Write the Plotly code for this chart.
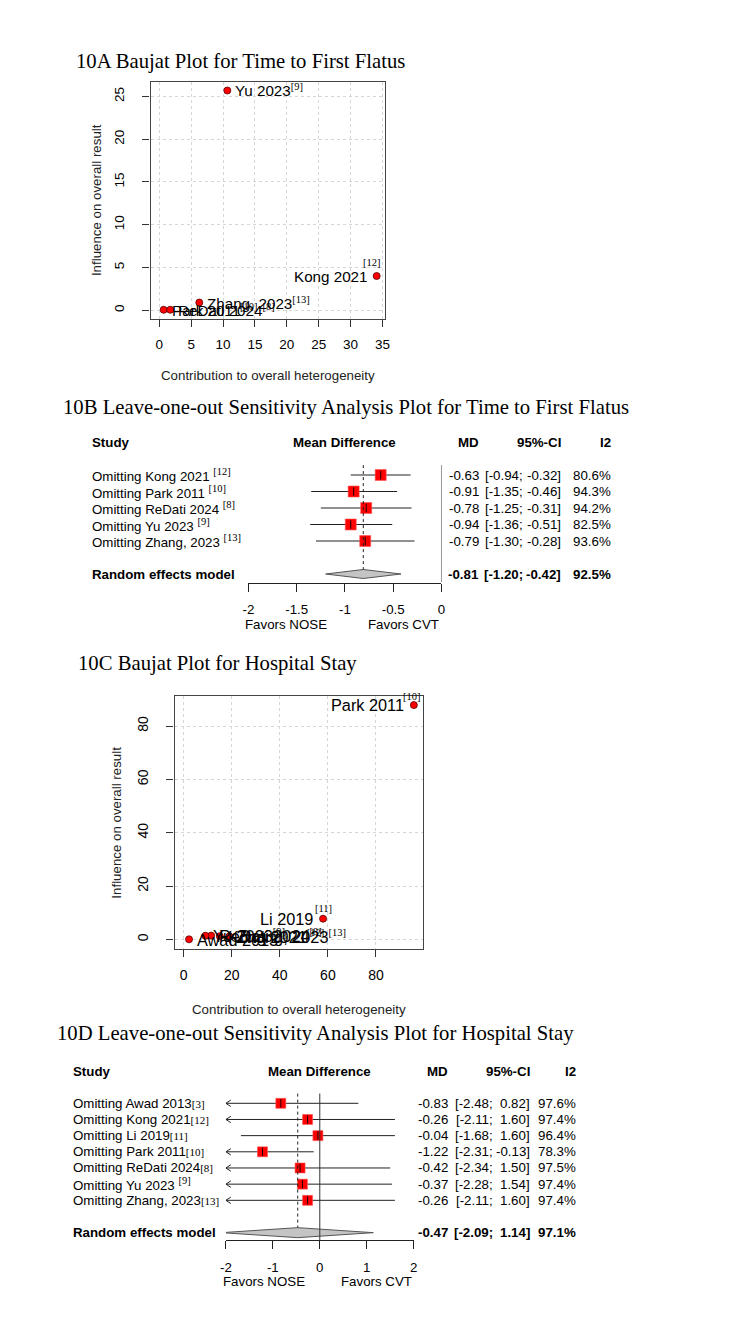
import plotly.graph_objects as go

# page body has an 8px margin: the figure is shrunk and offset so that
# reference pixel coordinates map exactly onto the 750x1333 screenshot
OX, OY = 8, 8
W, H = 734, 1317
SANS = "Liberation Sans, Arial, Helvetica, sans-serif"
SERIF = "Liberation Serif, Times New Roman, serif"

# ---------------- data ----------------
titles = ["10A Baujat Plot for Time to First Flatus",
          "10B Leave-one-out Sensitivity Analysis Plot for Time to First Flatus",
          "10C Baujat Plot for Hospital Stay",
          "10D Leave-one-out Sensitivity Analysis Plot for Hospital Stay"]

# 10A Baujat (time to first flatus)
a_study = ["Kong 2021", "Park 2011", "ReDati 2024", "Yu 2023", "Zhang, 2023"]
a_ref = ["[12]", "[10]", "[8]", "[9]", "[13]"]
a_het = [34.1, 0.68, 1.71, 10.67, 6.27]
a_infl = [4.0, 0.05, 0.05, 25.7, 0.9]
a_xticks = [0, 5, 10, 15, 20, 25, 30, 35]
a_yticks = [0, 5, 10, 15, 20, 25]

# 10B leave-one-out (time to first flatus)
b_label = ["Omitting Kong 2021", "Omitting Park 2011", "Omitting ReDati 2024",
           "Omitting Yu 2023", "Omitting Zhang, 2023"]
b_ref = [" [12]", " [10]", " [8]", " [9]", " [13]"]
b_md = [-0.63, -0.91, -0.78, -0.94, -0.79]
b_lo = [-0.94, -1.35, -1.25, -1.36, -1.30]
b_hi = [-0.32, -0.46, -0.31, -0.51, -0.28]
b_i2 = [80.6, 94.3, 94.2, 82.5, 93.6]
b_re_md, b_re_lo, b_re_hi, b_re_i2 = -0.81, -1.20, -0.42, 92.5
b_ticks = [-2, -1.5, -1, -0.5, 0]

# 10C Baujat (hospital stay)
c_study = ["Awad 2013", "Kong 2021", "Li 2019", "Park 2011", "ReDati 2024", "Yu 2023", "Zhang, 2023"]
c_ref = ["[3]", "[12]", "[11]", "[10]", "[8]", "[9]", "[13]"]
c_het = [2.2, 15.0, 58.0, 95.8, 11.4, 9.0, 19.0]
c_infl = [0.0, 1.2, 7.75, 87.9, 1.4, 1.35, 1.1]
c_xticks = [0, 20, 40, 60, 80]
c_yticks = [0, 20, 40, 60, 80]

# 10D leave-one-out (hospital stay)
d_label = ["Omitting Awad 2013", "Omitting Kong 2021", "Omitting Li 2019", "Omitting Park 2011",
           "Omitting ReDati 2024", "Omitting Yu 2023", "Omitting Zhang, 2023"]
d_ref = ["[3]", "[12]", "[11]", "[10]", "[8]", " [9]", "[13]"]
d_md = [-0.83, -0.26, -0.04, -1.22, -0.42, -0.37, -0.26]
d_lo = [-2.48, -2.11, -1.68, -2.31, -2.34, -2.28, -2.11]
d_hi = [0.82, 1.60, 1.60, -0.13, 1.50, 1.54, 1.60]
d_i2 = [97.6, 97.4, 96.4, 78.3, 97.5, 97.4, 97.4]
d_re_md, d_re_lo, d_re_hi, d_re_i2 = -0.47, -2.09, 1.14, 97.1
d_ticks = [-2, -1, 0, 1, 2]

# ---------------- helpers ----------------
def P(xp):
    return (xp - OX) / W


def Q(yp):
    return 1 - (yp - OY) / H


def ref_html(r, size=10.5):
    return f"<span style='font-family:Liberation Serif;font-size:{size}px'>{r}</span>"


def sup(r, size=10.5):
    return f"<sup>{ref_html(r, size)}</sup>"


def pad_range(vals):
    hi = max(vals)
    d = hi * 0.04
    return [-d, hi + d]


fig = go.Figure()
ann = []
shapes = []

LEFT_FIX = -5

def text(t, x, y, xref="paper", yref="paper", xanchor="left", size=13.3, family=SANS,
         color="black", **kw):
    if xanchor == "left" and "xshift" not in kw:
        kw["xshift"] = LEFT_FIX
    ann.append(dict(text=t, x=x, y=y, xref=xref, yref=yref, xanchor=xanchor, yanchor="middle",
                    showarrow=False, font=dict(size=size, family=family, color=color), **kw))

# titles
title_pos = [(74, 61.7), (61, 407.5), (76, 663), (55, 1033)]
for t, (tx, ty) in zip(titles, title_pos):
    text(t, P(tx), Q(ty), size=20.7, family=SERIF)

# ---------------- Baujat panels ----------------
def baujat(xa, ya, box, het, infl, study, refs, xticks, yticks, left_set, ref_shift,
           tick_size, lab_size, xtitle_y, ytitle_x):
    x0, x1, y0, y1 = box
    fig.add_trace(go.Scatter(x=het, y=infl, mode="markers", xaxis=xa, yaxis=ya,
                             marker=dict(size=7, color="#ff0000", line=dict(color="#550000", width=0.8)),
                             cliponaxis=False, hoverinfo="skip"))
    axn = "xaxis" + xa[1:]
    ayn = "yaxis" + ya[1:]
    common = dict(ticks="outside", ticklen=7, tickcolor="#333", tickwidth=1,
                  showline=True, mirror=True, linecolor="#444", linewidth=1.4,
                  showgrid=True, gridcolor="#d6d6d6", griddash="dot", gridwidth=1,
                  zeroline=False, fixedrange=True,
                  tickfont=dict(size=tick_size, family=SANS, color="black"))
    fig.update_layout(**{
        axn: dict(domain=[P(x0), P(x1)], range=pad_range(het), anchor=ya,
                  tickvals=xticks, ticktext=[str(v) for v in xticks], ticklabelstandoff=6, **common),
        ayn: dict(domain=[Q(y1), Q(y0)], range=pad_range(infl), anchor=xa,
                  tickvals=yticks, ticktext=[str(v) for v in yticks], tickangle=-90,
                  ticklabelstandoff=13, **common),
    })
    for s, r, hx, iy in zip(study, refs, het, infl):
        if s in left_set:
            text(s, hx, iy, xref=xa, yref=ya, xanchor="right", size=lab_size, xshift=-8)
            dx, dy = ref_shift[s]
            text(ref_html(r), hx, iy, xref=xa, yref=ya, xanchor="left", size=lab_size,
                 xshift=dx, yshift=dy)
        else:
            text(s + sup(r), hx, iy, xref=xa, yref=ya, xanchor="left", size=lab_size, xshift=6)
    text("Contribution to overall heterogeneity", P((x0 + x1) / 2), Q(xtitle_y),
         xanchor="center", size=13.3, color="#222")
    text("Influence on overall result", P(ytitle_x), Q((y0 + y1) / 2),
         xanchor="center", size=13.3, color="#222", textangle=-90)

baujat("x", "y", (146.7, 385, 81.7, 319), a_het, a_infl, a_study, a_ref, a_xticks, a_yticks,
       {"Kong 2021"}, {"Kong 2021": (-16, 14)}, 13.5, 15.2, 375, 92)
baujat("x2", "y2", (171, 423.3, 695.7, 948.7), c_het, c_infl, c_study, c_ref, c_xticks, c_yticks,
       {"Li 2019", "Park 2011"}, {"Li 2019": (-10, 10), "Park 2011": (-13, 9)}, 14, 16.3, 1009, 112)

# ---------------- forest panels ----------------
def forest(xa, ya, lay, labels, refs, md, lo, hi, i2, re, ticks):
    row0, rh, top, bot = lay["row0"], lay["rh"], lay["top"], lay["bot"]
    xmin, xmax = min(ticks), max(ticks)
    n = len(md)
    rows = list(range(n))
    rr = n + 1
    axn = "xaxis" + xa[1:]
    ayn = "yaxis" + ya[1:]
    fig.update_layout(**{
        axn: dict(domain=[P(lay["ax0"]), P(lay["ax1"])], range=[xmin, xmax], anchor=ya,
                  tickvals=ticks, ticktext=[f"{v:g}" for v in ticks], ticks="outside", ticklen=8,
                  tickcolor="#222", tickwidth=1, showline=True, linecolor="#222", linewidth=1,
                  showgrid=False, zeroline=False, fixedrange=True, ticklabelstandoff=7,
                  tickfont=dict(size=13.3, family=SANS, color="black")),
        ayn: dict(domain=[Q(bot), Q(top)], range=[(bot - row0) / rh, (top - row0) / rh],
                  visible=False, fixedrange=True),
    })
    # CI lines (clipped) and arrows
    lx, ly, arx, ary = [], [], [], []
    axw = 5 / ((lay["ax1"] - lay["ax0"]) / (xmax - xmin))
    ayw = 3.2 / rh
    for r, l, h in zip(rows, lo, hi):
        lx += [max(l, xmin), min(h, xmax), None]
        ly += [r, r, None]
        if l < xmin:
            arx += [xmin + axw, xmin, xmin + axw, None]
            ary += [r - ayw, r, r + ayw, None]
        if h > xmax:
            arx += [xmax - axw, xmax, xmax - axw, None]
            ary += [r - ayw, r, r + ayw, None]
    fig.add_trace(go.Scatter(x=lx, y=ly, mode="lines", xaxis=xa, yaxis=ya, cliponaxis=False,
                             line=dict(color="#222", width=1), hoverinfo="skip"))
    if arx:
        fig.add_trace(go.Scatter(x=arx, y=ary, mode="lines", xaxis=xa, yaxis=ya, cliponaxis=False,
                                 line=dict(color="#222", width=1), hoverinfo="skip"))
    fig.add_trace(go.Scatter(x=md, y=rows, mode="markers", xaxis=xa, yaxis=ya, cliponaxis=False,
                             marker=dict(symbol="square", size=lay["sq"], color="#ff0000",
                                         line=dict(width=0.6, color="#ff5555")), hoverinfo="skip"))
    fig.add_trace(go.Scatter(x=md, y=rows, mode="markers", xaxis=xa, yaxis=ya, cliponaxis=False,
                             marker=dict(symbol="line-ns", size=6, line=dict(color="black", width=0.9)),
                             hoverinfo="skip"))
    # diamond
    rmd, rlo, rhi, ri2 = re
    hh = lay["dh"] / rh
    if rlo < xmin:
        f = (xmin - rlo) / (rmd - rlo)
        dx = [xmin, rmd, min(rhi, xmax), rmd, xmin, xmin]
        dy = [rr - hh * f, rr - hh, rr, rr + hh, rr + hh * f, rr - hh * f]
    else:
        dx = [rlo, rmd, rhi, rmd, rlo]
        dy = [rr, rr - hh, rr, rr + hh, rr]
    fig.add_trace(go.Scatter(x=dx, y=dy, mode="lines", fill="toself", fillcolor="#c4c4c4",
                             xaxis=xa, yaxis=ya, cliponaxis=False,
                             line=dict(color="#555", width=1), hoverinfo="skip"))
    # reference lines
    ybot = (bot - row0) / rh
    shapes.append(dict(type="line", xref=xa, yref=ya, x0=0, x1=0, y0=-0.6, y1=ybot,
                       line=dict(color="#333", width=1)))
    shapes.append(dict(type="line", xref=xa, yref=ya, x0=rmd, x1=rmd, y0=-0.6, y1=rr - hh,
                       line=dict(color="#222", width=1, dash="dot")))
    # header
    hy = -1.95
    text("<b>Study</b>", P(lay["lab"]), hy, yref=ya)
    text("<b>Mean Difference</b>", P((lay["ax0"] + lay["ax1"]) / 2), hy, yref=ya, xanchor="center")
    text("<b>MD</b>", P(lay["md"]), hy, yref=ya, xanchor="right")
    text("<b>95%-CI</b>", P(lay["ci"]), hy, yref=ya, xanchor="right")
    text("<b>I2</b>", P(lay["i2"]), hy, yref=ya, xanchor="right")
    # rows
    for r, lab, rf, m, l, h, q in zip(rows, labels, refs, md, lo, hi, i2):
        if rf.startswith(" "):
            lab_t = lab + " " + sup(rf.strip())
        else:
            lab_t = lab + ref_html(rf, 11)
        text(lab_t, P(lay["lab"]), r, yref=ya)
        text(f"{m:.2f}", P(lay["md"]), r, yref=ya, xanchor="right")
        text(f"[{l:.2f};", P(lay["semi"]), r, yref=ya, xanchor="right")
        text(f"{h:.2f}]", P(lay["ci"]), r, yref=ya, xanchor="right")
        text(f"{q:.1f}%", P(lay["i2"]), r, yref=ya, xanchor="right")
    text("<b>Random effects model</b>", P(lay["lab"]), rr, yref=ya)
    text(f"<b>{rmd:.2f}</b>", P(lay["md"]), rr, yref=ya, xanchor="right")
    text(f"<b>[{rlo:.2f};</b>", P(lay["semi"]), rr, yref=ya, xanchor="right")
    text(f"<b>{rhi:.2f}]</b>", P(lay["ci"]), rr, yref=ya, xanchor="right")
    text(f"<b>{ri2:.1f}%</b>", P(lay["i2"]), rr, yref=ya, xanchor="right")
    # favours labels
    text("Favors NOSE", xmin, Q(lay["fav"]), xref=xa, xanchor="left")
    text("Favors CVT", xmax, Q(lay["fav"]), xref=xa, xanchor="right")

b_lay = dict(row0=475, rh=16.5, top=442.7, bot=582.5, ax0=246, ax1=442, lab=90,
             md=481.9, semi=527, ci=565, i2=615.8, fav=625, sq=11, dh=4.5)
d_lay = dict(row0=1103.3, rh=16.17, top=1071.7, bot=1240, ax0=223.1, ax1=413.8, lab=70.5,
             md=450.4, semi=496, ci=533.8, i2=580.4, fav=1281.7, sq=10, dh=5)

forest("x3", "y3", b_lay, b_label, b_ref, b_md, b_lo, b_hi, b_i2,
       (b_re_md, b_re_lo, b_re_hi, b_re_i2), b_ticks)
forest("x4", "y4", d_lay, d_label, d_ref, d_md, d_lo, d_hi, d_i2,
       (d_re_md, d_re_lo, d_re_hi, d_re_i2), d_ticks)

fig.update_layout(width=W, height=H, margin=dict(l=0, r=0, t=0, b=0),
                  paper_bgcolor="white", plot_bgcolor="white", showlegend=False,
                  annotations=ann, shapes=shapes, font=dict(family=SANS, color="black"))
fig.write_html("out.html")
